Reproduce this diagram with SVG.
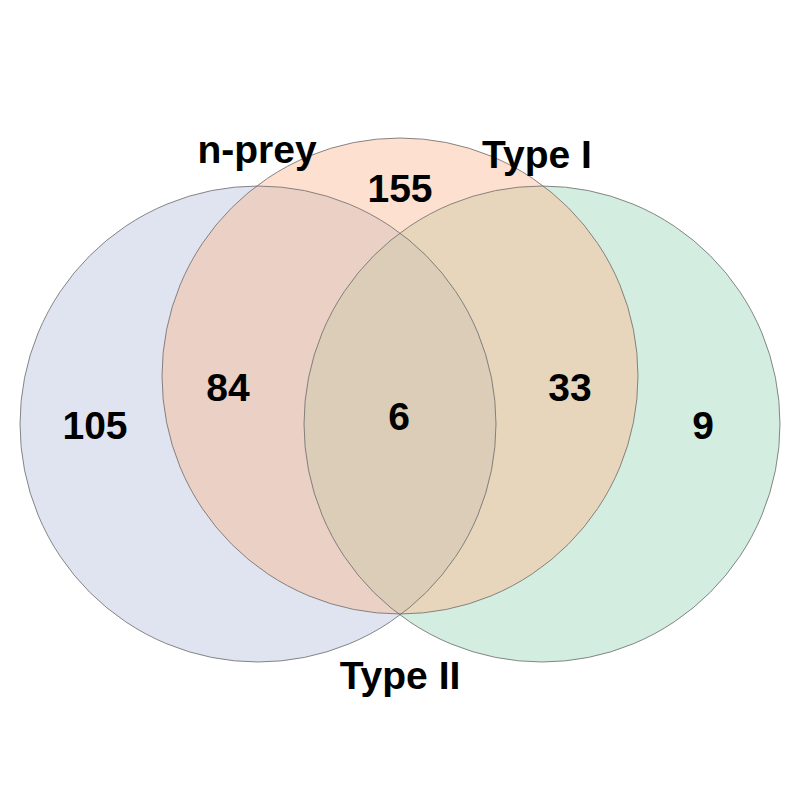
<svg xmlns="http://www.w3.org/2000/svg" width="800" height="800" viewBox="0 0 800 800">
<defs>
<clipPath id="clipO"><circle cx="400" cy="376" r="238"/></clipPath>
</defs>
<style>
.o{fill:none;stroke:#6a6a6a;stroke-width:0.8}
text{font-family:"Liberation Sans",Arial,sans-serif;font-weight:bold;font-size:39px;text-anchor:middle;fill:#000}
</style>
<rect width="800" height="800" fill="#fff"/>
<g id="nprey"><circle cx="258" cy="424" r="238" fill="#dfe4f0"/></g>
<g id="typeII"><circle cx="542" cy="424" r="238" fill="#d3ede0"/></g>
<g id="typeI"><circle cx="400" cy="376" r="238" fill="#fde0cf"/></g>
<g id="overlaps">
<path d="M256.7,186 A238,238 0 0 1 401.3,614 A238,238 0 0 1 256.7,186 Z" fill="#ebd0c6"/>
<path d="M543.3,186 A238,238 0 0 0 398.7,614 A238,238 0 0 0 543.3,186 Z" fill="#e7d6bc"/>
<path d="M400,233 A238,238 0 0 1 400,615 A238,238 0 0 1 400,233 Z" fill="#dbcdb7" clip-path="url(#clipO)"/>
</g>
<g id="outlines">
<circle class="o" cx="258" cy="424" r="238"/>
<circle class="o" cx="542" cy="424" r="238"/>
<circle class="o" cx="400" cy="376" r="238"/>
</g>
<g id="labels">
<text x="257" y="163">n-prey</text>
<text x="537" y="168">Type I</text>
<text x="400" y="689">Type II</text>
<text x="400" y="202">155</text>
<text x="95" y="439">105</text>
<text x="228" y="401">84</text>
<text x="399" y="430">6</text>
<text x="570" y="401">33</text>
<text x="703" y="439">9</text>
</g>
</svg>
